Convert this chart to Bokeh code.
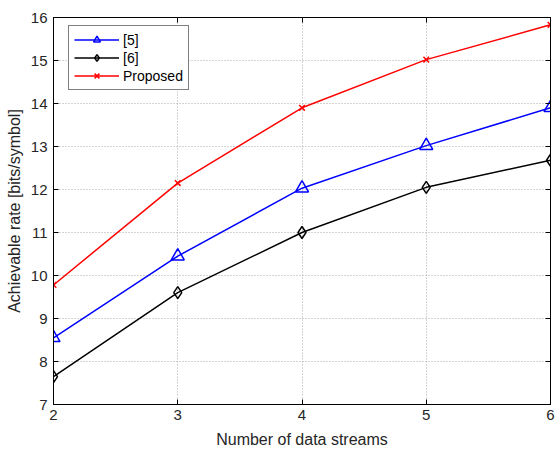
from bokeh.plotting import figure
from bokeh.models import LinearAxis, Range1d, FixedTicker
from bokeh.embed import file_html
from bokeh.resources import INLINE

# ---- data ----
streams = [2, 3, 4, 5, 6]
rate_ref5 = [8.55, 10.45, 12.03, 13.02, 13.90]
rate_ref6 = [7.65, 9.60, 11.00, 12.05, 12.68]
rate_proposed = [9.78, 12.15, 13.90, 15.02, 15.83]
x_ticks = [2, 3, 4, 5, 6]
y_ticks = [7, 8, 9, 10, 11, 12, 13, 14, 15, 16]

FONT = "Liberation Sans"

p = figure(width=557, height=452, output_backend="svg", toolbar_location=None,
           x_range=Range1d(2, 6), y_range=Range1d(7, 16),
           min_border_left=53, min_border_right=7, min_border_top=17, min_border_bottom=48)
p.background_fill_color = "white"
p.border_fill_color = "white"
p.outline_line_color = "black"
p.outline_line_width = 1

for ax, ticks in ((p.xaxis[0], x_ticks), (p.yaxis[0], y_ticks)):
    ax.ticker = FixedTicker(ticks=ticks)
    ax.major_tick_in = 5
    ax.major_tick_out = 0
    ax.minor_tick_in = 0
    ax.minor_tick_out = 0
    ax.axis_line_color = "black"
    ax.major_tick_line_color = "black"
    ax.major_label_text_font = FONT
    ax.major_label_text_font_size = "15px"
    ax.major_label_text_color = "#262626"
    ax.axis_label_text_font = FONT
    ax.axis_label_text_font_size = "16px"
    ax.axis_label_text_font_style = "normal"
    ax.axis_label_text_color = "#262626"

p.xaxis.axis_label = "Number of data streams"
p.yaxis.axis_label = "Achievable rate [bits/symbol]"
p.xaxis.major_label_standoff = 5
p.xaxis.axis_label_standoff = 8
p.yaxis.major_label_standoff = 6
p.yaxis.axis_label_standoff = 5

# mirrored ticks on top and right (box style), no labels
for loc, ticks in (("right", y_ticks), ("above", x_ticks)):
    a = LinearAxis(ticker=FixedTicker(ticks=ticks))
    a.major_tick_in = 5
    a.major_tick_out = 0
    a.minor_tick_in = 0
    a.minor_tick_out = 0
    a.major_label_overrides = {t: "" for t in ticks}
    a.major_label_standoff = 0
    a.axis_line_color = "black"
    a.major_tick_line_color = "black"
    p.add_layout(a, loc)

p.xgrid.ticker = FixedTicker(ticks=x_ticks)
p.ygrid.ticker = FixedTicker(ticks=y_ticks)
for g in (p.xgrid, p.ygrid):
    g.grid_line_color = "#a8a8a8"
    g.grid_line_dash = "1 2"
    g.grid_line_width = 1

# series
p.line(streams, rate_ref5, color="#0000ff", line_width=1.5, legend_label="[5]")
p.scatter(streams, rate_ref5, marker="triangle", size=13, line_color="#0000ff",
          fill_color=None, line_width=1.5, legend_label="[5]")
p.line(streams, rate_ref6, color="black", line_width=1.5, legend_label="[6]")
p.scatter(streams, rate_ref6, marker="diamond", size=12, line_color="black",
          fill_color=None, line_width=1.5, legend_label="[6]")
p.line(streams, rate_proposed, color="#ff0000", line_width=1.5, legend_label="Proposed")
p.scatter(streams, rate_proposed, marker="x", size=8, line_color="#ff0000",
          line_width=1.5, legend_label="Proposed")

lg = p.legend[0]
lg.location = (15, 314)
lg.margin = 0
lg.padding = 5
lg.spacing = 1
lg.glyph_width = 45
lg.glyph_height = 17
lg.label_height = 17
lg.label_standoff = 4
lg.label_text_font = FONT
lg.label_text_font_size = "14px"
lg.label_text_color = "black"
lg.border_line_color = "black"
lg.border_line_width = 1
lg.background_fill_color = "white"
lg.background_fill_alpha = 1.0

open("out.html", "w").write(file_html(p, INLINE))
